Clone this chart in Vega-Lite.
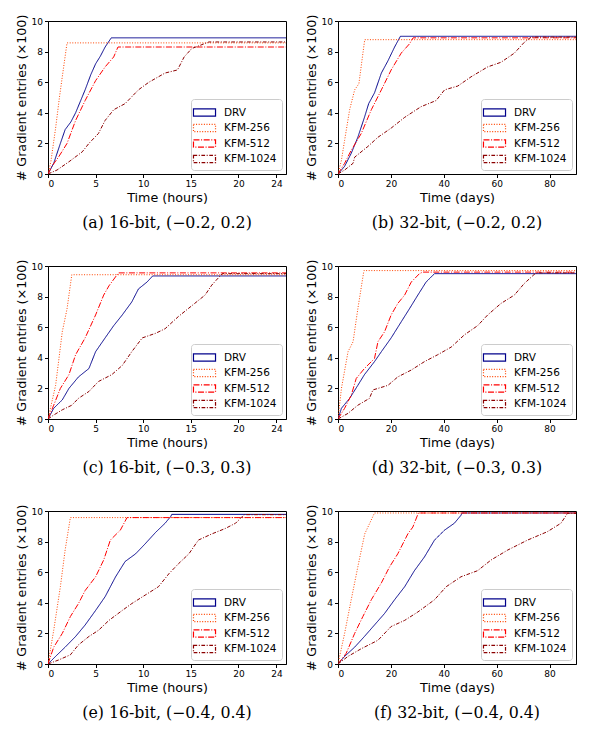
{
  "$schema": "https://vega.github.io/schema/vega-lite/v6.json",
  "padding": {"left": 14, "top": 13, "right": 0, "bottom": 0},
  "data": {
    "values": [
      {"p": "a", "s": "DRV", "t": 0, "y": 0}, {"p": "a", "s": "DRV", "t": 0.6, "y": 0.7}, {"p": "a", "s": "DRV", "t": 1.3, "y": 2.0}, {"p": "a", "s": "DRV", "t": 1.8, "y": 2.9}, {"p": "a", "s": "DRV", "t": 2.4, "y": 3.4}, {"p": "a", "s": "DRV", "t": 2.9, "y": 4.0}, {"p": "a", "s": "DRV", "t": 3.9, "y": 5.5}, {"p": "a", "s": "DRV", "t": 4.5, "y": 6.5}, {"p": "a", "s": "DRV", "t": 5.0, "y": 7.2}, {"p": "a", "s": "DRV", "t": 5.5, "y": 7.7}, {"p": "a", "s": "DRV", "t": 6.0, "y": 8.3}, {"p": "a", "s": "DRV", "t": 6.65, "y": 8.9}, {"p": "a", "s": "DRV", "t": 25, "y": 8.9},
      {"p": "a", "s": "KFM-256", "t": 0, "y": 0}, {"p": "a", "s": "KFM-256", "t": 0.3, "y": 0.8}, {"p": "a", "s": "KFM-256", "t": 0.8, "y": 3.0}, {"p": "a", "s": "KFM-256", "t": 1.2, "y": 5.0}, {"p": "a", "s": "KFM-256", "t": 1.6, "y": 6.8}, {"p": "a", "s": "KFM-256", "t": 2.0, "y": 8.57}, {"p": "a", "s": "KFM-256", "t": 25, "y": 8.57},
      {"p": "a", "s": "KFM-512", "t": 0, "y": 0}, {"p": "a", "s": "KFM-512", "t": 0.4, "y": 0.5}, {"p": "a", "s": "KFM-512", "t": 1.1, "y": 1.1}, {"p": "a", "s": "KFM-512", "t": 2.0, "y": 2.0}, {"p": "a", "s": "KFM-512", "t": 2.9, "y": 3.5}, {"p": "a", "s": "KFM-512", "t": 3.9, "y": 4.8}, {"p": "a", "s": "KFM-512", "t": 5.0, "y": 6.1}, {"p": "a", "s": "KFM-512", "t": 6.0, "y": 7.0}, {"p": "a", "s": "KFM-512", "t": 6.9, "y": 7.65}, {"p": "a", "s": "KFM-512", "t": 7.35, "y": 8.3}, {"p": "a", "s": "KFM-512", "t": 25, "y": 8.3},
      {"p": "a", "s": "KFM-1024", "t": 0, "y": 0}, {"p": "a", "s": "KFM-1024", "t": 0.95, "y": 0.26}, {"p": "a", "s": "KFM-1024", "t": 2.2, "y": 0.8}, {"p": "a", "s": "KFM-1024", "t": 3.6, "y": 1.45}, {"p": "a", "s": "KFM-1024", "t": 4.3, "y": 2.0}, {"p": "a", "s": "KFM-1024", "t": 5.3, "y": 2.65}, {"p": "a", "s": "KFM-1024", "t": 6.0, "y": 3.5}, {"p": "a", "s": "KFM-1024", "t": 6.9, "y": 4.2}, {"p": "a", "s": "KFM-1024", "t": 8.1, "y": 4.6}, {"p": "a", "s": "KFM-1024", "t": 9.5, "y": 5.5}, {"p": "a", "s": "KFM-1024", "t": 10.6, "y": 6.0}, {"p": "a", "s": "KFM-1024", "t": 12.3, "y": 6.6}, {"p": "a", "s": "KFM-1024", "t": 13.6, "y": 6.8}, {"p": "a", "s": "KFM-1024", "t": 14.3, "y": 7.65}, {"p": "a", "s": "KFM-1024", "t": 15.1, "y": 8.2}, {"p": "a", "s": "KFM-1024", "t": 16.9, "y": 8.63}, {"p": "a", "s": "KFM-1024", "t": 25, "y": 8.63},

      {"p": "b", "s": "DRV", "t": 0, "y": 0}, {"p": "b", "s": "DRV", "t": 2.5, "y": 0.5}, {"p": "b", "s": "DRV", "t": 5, "y": 1.35}, {"p": "b", "s": "DRV", "t": 7.5, "y": 2.4}, {"p": "b", "s": "DRV", "t": 10, "y": 3.7}, {"p": "b", "s": "DRV", "t": 11.6, "y": 4.6}, {"p": "b", "s": "DRV", "t": 13.8, "y": 5.3}, {"p": "b", "s": "DRV", "t": 16.4, "y": 6.6}, {"p": "b", "s": "DRV", "t": 18.9, "y": 7.4}, {"p": "b", "s": "DRV", "t": 21.4, "y": 8.3}, {"p": "b", "s": "DRV", "t": 23.6, "y": 9.0}, {"p": "b", "s": "DRV", "t": 90, "y": 9.0},
      {"p": "b", "s": "KFM-256", "t": 0, "y": 0}, {"p": "b", "s": "KFM-256", "t": 1.3, "y": 0.9}, {"p": "b", "s": "KFM-256", "t": 2.5, "y": 2.2}, {"p": "b", "s": "KFM-256", "t": 4.4, "y": 4.2}, {"p": "b", "s": "KFM-256", "t": 6.3, "y": 5.5}, {"p": "b", "s": "KFM-256", "t": 7.9, "y": 5.9}, {"p": "b", "s": "KFM-256", "t": 10.1, "y": 8.78}, {"p": "b", "s": "KFM-256", "t": 90, "y": 8.78},
      {"p": "b", "s": "KFM-512", "t": 0, "y": 0}, {"p": "b", "s": "KFM-512", "t": 2.5, "y": 0.7}, {"p": "b", "s": "KFM-512", "t": 5, "y": 1.55}, {"p": "b", "s": "KFM-512", "t": 8.8, "y": 2.65}, {"p": "b", "s": "KFM-512", "t": 12.6, "y": 4.2}, {"p": "b", "s": "KFM-512", "t": 16.4, "y": 5.5}, {"p": "b", "s": "KFM-512", "t": 20.1, "y": 6.8}, {"p": "b", "s": "KFM-512", "t": 23.9, "y": 7.9}, {"p": "b", "s": "KFM-512", "t": 27, "y": 8.5}, {"p": "b", "s": "KFM-512", "t": 28.4, "y": 8.9}, {"p": "b", "s": "KFM-512", "t": 90, "y": 8.9},
      {"p": "b", "s": "KFM-1024", "t": 0, "y": 0}, {"p": "b", "s": "KFM-1024", "t": 2.5, "y": 0.26}, {"p": "b", "s": "KFM-1024", "t": 5.7, "y": 0.7}, {"p": "b", "s": "KFM-1024", "t": 6.3, "y": 1.1}, {"p": "b", "s": "KFM-1024", "t": 11.3, "y": 1.8}, {"p": "b", "s": "KFM-1024", "t": 15.1, "y": 2.4}, {"p": "b", "s": "KFM-1024", "t": 20.1, "y": 3.0}, {"p": "b", "s": "KFM-1024", "t": 25.2, "y": 3.7}, {"p": "b", "s": "KFM-1024", "t": 31.4, "y": 4.4}, {"p": "b", "s": "KFM-1024", "t": 37.1, "y": 4.8}, {"p": "b", "s": "KFM-1024", "t": 40.3, "y": 5.5}, {"p": "b", "s": "KFM-1024", "t": 45.3, "y": 5.75}, {"p": "b", "s": "KFM-1024", "t": 50.3, "y": 6.35}, {"p": "b", "s": "KFM-1024", "t": 56.6, "y": 7.0}, {"p": "b", "s": "KFM-1024", "t": 61.6, "y": 7.3}, {"p": "b", "s": "KFM-1024", "t": 66.7, "y": 7.9}, {"p": "b", "s": "KFM-1024", "t": 70.4, "y": 8.6}, {"p": "b", "s": "KFM-1024", "t": 73, "y": 8.95}, {"p": "b", "s": "KFM-1024", "t": 90, "y": 8.95},

      {"p": "c", "s": "DRV", "t": 0, "y": 0}, {"p": "c", "s": "DRV", "t": 0.6, "y": 0.7}, {"p": "c", "s": "DRV", "t": 1.5, "y": 1.25}, {"p": "c", "s": "DRV", "t": 2.2, "y": 2.0}, {"p": "c", "s": "DRV", "t": 3.2, "y": 2.75}, {"p": "c", "s": "DRV", "t": 4.3, "y": 3.3}, {"p": "c", "s": "DRV", "t": 5.0, "y": 4.4}, {"p": "c", "s": "DRV", "t": 6.0, "y": 5.3}, {"p": "c", "s": "DRV", "t": 6.9, "y": 6.1}, {"p": "c", "s": "DRV", "t": 7.8, "y": 6.8}, {"p": "c", "s": "DRV", "t": 8.8, "y": 7.65}, {"p": "c", "s": "DRV", "t": 9.5, "y": 8.5}, {"p": "c", "s": "DRV", "t": 10.4, "y": 8.95}, {"p": "c", "s": "DRV", "t": 11.0, "y": 9.35}, {"p": "c", "s": "DRV", "t": 25, "y": 9.35},
      {"p": "c", "s": "KFM-256", "t": 0, "y": 0}, {"p": "c", "s": "KFM-256", "t": 0.8, "y": 2.2}, {"p": "c", "s": "KFM-256", "t": 1.5, "y": 5.7}, {"p": "c", "s": "KFM-256", "t": 2.0, "y": 7.2}, {"p": "c", "s": "KFM-256", "t": 2.5, "y": 9.43}, {"p": "c", "s": "KFM-256", "t": 25, "y": 9.43},
      {"p": "c", "s": "KFM-512", "t": 0, "y": 0}, {"p": "c", "s": "KFM-512", "t": 0.6, "y": 0.9}, {"p": "c", "s": "KFM-512", "t": 1.3, "y": 2.0}, {"p": "c", "s": "KFM-512", "t": 2.2, "y": 2.9}, {"p": "c", "s": "KFM-512", "t": 2.9, "y": 4.2}, {"p": "c", "s": "KFM-512", "t": 3.9, "y": 5.3}, {"p": "c", "s": "KFM-512", "t": 5.0, "y": 6.8}, {"p": "c", "s": "KFM-512", "t": 5.85, "y": 8.1}, {"p": "c", "s": "KFM-512", "t": 6.4, "y": 8.7}, {"p": "c", "s": "KFM-512", "t": 7.4, "y": 9.55}, {"p": "c", "s": "KFM-512", "t": 25, "y": 9.55},
      {"p": "c", "s": "KFM-1024", "t": 0, "y": 0}, {"p": "c", "s": "KFM-1024", "t": 0.6, "y": 0.26}, {"p": "c", "s": "KFM-1024", "t": 1.5, "y": 0.6}, {"p": "c", "s": "KFM-1024", "t": 2.5, "y": 0.9}, {"p": "c", "s": "KFM-1024", "t": 3.2, "y": 1.35}, {"p": "c", "s": "KFM-1024", "t": 4.3, "y": 1.8}, {"p": "c", "s": "KFM-1024", "t": 5.3, "y": 2.45}, {"p": "c", "s": "KFM-1024", "t": 6.7, "y": 2.9}, {"p": "c", "s": "KFM-1024", "t": 7.8, "y": 3.5}, {"p": "c", "s": "KFM-1024", "t": 8.8, "y": 4.4}, {"p": "c", "s": "KFM-1024", "t": 9.9, "y": 5.3}, {"p": "c", "s": "KFM-1024", "t": 11.3, "y": 5.6}, {"p": "c", "s": "KFM-1024", "t": 12.3, "y": 5.9}, {"p": "c", "s": "KFM-1024", "t": 13.7, "y": 6.7}, {"p": "c", "s": "KFM-1024", "t": 15.1, "y": 7.4}, {"p": "c", "s": "KFM-1024", "t": 16.5, "y": 8.1}, {"p": "c", "s": "KFM-1024", "t": 17.2, "y": 8.75}, {"p": "c", "s": "KFM-1024", "t": 18.3, "y": 9.5}, {"p": "c", "s": "KFM-1024", "t": 25, "y": 9.5},

      {"p": "d", "s": "DRV", "t": 0, "y": 0}, {"p": "d", "s": "DRV", "t": 1.3, "y": 0.7}, {"p": "d", "s": "DRV", "t": 4.4, "y": 1.35}, {"p": "d", "s": "DRV", "t": 7.5, "y": 2.2}, {"p": "d", "s": "DRV", "t": 10, "y": 2.9}, {"p": "d", "s": "DRV", "t": 13.8, "y": 3.75}, {"p": "d", "s": "DRV", "t": 16.4, "y": 4.4}, {"p": "d", "s": "DRV", "t": 20.1, "y": 5.3}, {"p": "d", "s": "DRV", "t": 23.9, "y": 6.35}, {"p": "d", "s": "DRV", "t": 27, "y": 7.2}, {"p": "d", "s": "DRV", "t": 30.2, "y": 8.1}, {"p": "d", "s": "DRV", "t": 33.3, "y": 8.95}, {"p": "d", "s": "DRV", "t": 36.5, "y": 9.5}, {"p": "d", "s": "DRV", "t": 90, "y": 9.5},
      {"p": "d", "s": "KFM-256", "t": 0, "y": 0}, {"p": "d", "s": "KFM-256", "t": 1.3, "y": 2.0}, {"p": "d", "s": "KFM-256", "t": 3.8, "y": 4.4}, {"p": "d", "s": "KFM-256", "t": 5.7, "y": 5.05}, {"p": "d", "s": "KFM-256", "t": 7.5, "y": 7.2}, {"p": "d", "s": "KFM-256", "t": 9.8, "y": 9.7}, {"p": "d", "s": "KFM-256", "t": 90, "y": 9.7},
      {"p": "d", "s": "KFM-512", "t": 0, "y": 0}, {"p": "d", "s": "KFM-512", "t": 2.5, "y": 0.7}, {"p": "d", "s": "KFM-512", "t": 5, "y": 1.55}, {"p": "d", "s": "KFM-512", "t": 6.9, "y": 2.65}, {"p": "d", "s": "KFM-512", "t": 10, "y": 3.3}, {"p": "d", "s": "KFM-512", "t": 13.8, "y": 3.95}, {"p": "d", "s": "KFM-512", "t": 15.1, "y": 5.05}, {"p": "d", "s": "KFM-512", "t": 17.6, "y": 5.7}, {"p": "d", "s": "KFM-512", "t": 20.1, "y": 6.8}, {"p": "d", "s": "KFM-512", "t": 22.6, "y": 7.55}, {"p": "d", "s": "KFM-512", "t": 25.2, "y": 8.1}, {"p": "d", "s": "KFM-512", "t": 27.7, "y": 8.95}, {"p": "d", "s": "KFM-512", "t": 30.8, "y": 9.5}, {"p": "d", "s": "KFM-512", "t": 32, "y": 9.6}, {"p": "d", "s": "KFM-512", "t": 90, "y": 9.6},
      {"p": "d", "s": "KFM-1024", "t": 0, "y": 0}, {"p": "d", "s": "KFM-1024", "t": 3.8, "y": 0.37}, {"p": "d", "s": "KFM-1024", "t": 7.5, "y": 0.9}, {"p": "d", "s": "KFM-1024", "t": 11.9, "y": 1.35}, {"p": "d", "s": "KFM-1024", "t": 13.2, "y": 1.9}, {"p": "d", "s": "KFM-1024", "t": 18.9, "y": 2.2}, {"p": "d", "s": "KFM-1024", "t": 22.6, "y": 2.75}, {"p": "d", "s": "KFM-1024", "t": 27.7, "y": 3.2}, {"p": "d", "s": "KFM-1024", "t": 32.7, "y": 3.75}, {"p": "d", "s": "KFM-1024", "t": 37.7, "y": 4.2}, {"p": "d", "s": "KFM-1024", "t": 42.8, "y": 4.7}, {"p": "d", "s": "KFM-1024", "t": 47.8, "y": 5.5}, {"p": "d", "s": "KFM-1024", "t": 52.8, "y": 6.1}, {"p": "d", "s": "KFM-1024", "t": 56.6, "y": 6.8}, {"p": "d", "s": "KFM-1024", "t": 61.6, "y": 7.55}, {"p": "d", "s": "KFM-1024", "t": 66.7, "y": 8.1}, {"p": "d", "s": "KFM-1024", "t": 70.4, "y": 8.85}, {"p": "d", "s": "KFM-1024", "t": 74.2, "y": 9.45}, {"p": "d", "s": "KFM-1024", "t": 75.5, "y": 9.55}, {"p": "d", "s": "KFM-1024", "t": 90, "y": 9.55},

      {"p": "e", "s": "DRV", "t": 0, "y": 0}, {"p": "e", "s": "DRV", "t": 0.8, "y": 0.5}, {"p": "e", "s": "DRV", "t": 1.8, "y": 1.1}, {"p": "e", "s": "DRV", "t": 2.9, "y": 1.8}, {"p": "e", "s": "DRV", "t": 3.9, "y": 2.55}, {"p": "e", "s": "DRV", "t": 5.0, "y": 3.5}, {"p": "e", "s": "DRV", "t": 6.0, "y": 4.4}, {"p": "e", "s": "DRV", "t": 7.1, "y": 5.7}, {"p": "e", "s": "DRV", "t": 8.1, "y": 6.7}, {"p": "e", "s": "DRV", "t": 9.2, "y": 7.2}, {"p": "e", "s": "DRV", "t": 10.2, "y": 7.85}, {"p": "e", "s": "DRV", "t": 11.3, "y": 8.6}, {"p": "e", "s": "DRV", "t": 12.3, "y": 9.2}, {"p": "e", "s": "DRV", "t": 12.9, "y": 9.65}, {"p": "e", "s": "DRV", "t": 13.0, "y": 9.78}, {"p": "e", "s": "DRV", "t": 25, "y": 9.78},
      {"p": "e", "s": "KFM-256", "t": 0, "y": 0}, {"p": "e", "s": "KFM-256", "t": 0.6, "y": 2.2}, {"p": "e", "s": "KFM-256", "t": 1.3, "y": 5.05}, {"p": "e", "s": "KFM-256", "t": 1.8, "y": 7.45}, {"p": "e", "s": "KFM-256", "t": 2.35, "y": 9.57}, {"p": "e", "s": "KFM-256", "t": 25, "y": 9.57},
      {"p": "e", "s": "KFM-512", "t": 0, "y": 0}, {"p": "e", "s": "KFM-512", "t": 0.6, "y": 1.1}, {"p": "e", "s": "KFM-512", "t": 1.5, "y": 2.0}, {"p": "e", "s": "KFM-512", "t": 2.35, "y": 3.1}, {"p": "e", "s": "KFM-512", "t": 3.2, "y": 3.95}, {"p": "e", "s": "KFM-512", "t": 3.9, "y": 4.8}, {"p": "e", "s": "KFM-512", "t": 5.0, "y": 5.7}, {"p": "e", "s": "KFM-512", "t": 5.85, "y": 6.8}, {"p": "e", "s": "KFM-512", "t": 6.55, "y": 8.1}, {"p": "e", "s": "KFM-512", "t": 7.6, "y": 8.75}, {"p": "e", "s": "KFM-512", "t": 8.3, "y": 9.57}, {"p": "e", "s": "KFM-512", "t": 25, "y": 9.57},
      {"p": "e", "s": "KFM-1024", "t": 0, "y": 0}, {"p": "e", "s": "KFM-1024", "t": 1.1, "y": 0.26}, {"p": "e", "s": "KFM-1024", "t": 2.35, "y": 0.6}, {"p": "e", "s": "KFM-1024", "t": 3.2, "y": 1.25}, {"p": "e", "s": "KFM-1024", "t": 4.3, "y": 1.8}, {"p": "e", "s": "KFM-1024", "t": 5.3, "y": 2.2}, {"p": "e", "s": "KFM-1024", "t": 6.4, "y": 2.85}, {"p": "e", "s": "KFM-1024", "t": 7.8, "y": 3.5}, {"p": "e", "s": "KFM-1024", "t": 8.8, "y": 3.95}, {"p": "e", "s": "KFM-1024", "t": 10.2, "y": 4.5}, {"p": "e", "s": "KFM-1024", "t": 11.6, "y": 5.05}, {"p": "e", "s": "KFM-1024", "t": 12.7, "y": 5.9}, {"p": "e", "s": "KFM-1024", "t": 13.7, "y": 6.55}, {"p": "e", "s": "KFM-1024", "t": 14.8, "y": 7.2}, {"p": "e", "s": "KFM-1024", "t": 15.8, "y": 8.1}, {"p": "e", "s": "KFM-1024", "t": 17.2, "y": 8.5}, {"p": "e", "s": "KFM-1024", "t": 18.6, "y": 8.85}, {"p": "e", "s": "KFM-1024", "t": 19.7, "y": 9.2}, {"p": "e", "s": "KFM-1024", "t": 20.6, "y": 9.76}, {"p": "e", "s": "KFM-1024", "t": 25, "y": 9.76},

      {"p": "f", "s": "DRV", "t": 0, "y": 0}, {"p": "f", "s": "DRV", "t": 2.5, "y": 0.5}, {"p": "f", "s": "DRV", "t": 6.3, "y": 1.1}, {"p": "f", "s": "DRV", "t": 10, "y": 1.8}, {"p": "f", "s": "DRV", "t": 13.8, "y": 2.55}, {"p": "f", "s": "DRV", "t": 17.6, "y": 3.3}, {"p": "f", "s": "DRV", "t": 21.4, "y": 4.2}, {"p": "f", "s": "DRV", "t": 25.2, "y": 5.05}, {"p": "f", "s": "DRV", "t": 28.9, "y": 6.1}, {"p": "f", "s": "DRV", "t": 32.7, "y": 7.0}, {"p": "f", "s": "DRV", "t": 36.5, "y": 8.1}, {"p": "f", "s": "DRV", "t": 40.3, "y": 8.75}, {"p": "f", "s": "DRV", "t": 44, "y": 9.2}, {"p": "f", "s": "DRV", "t": 46.5, "y": 9.72}, {"p": "f", "s": "DRV", "t": 46.9, "y": 9.87}, {"p": "f", "s": "DRV", "t": 90, "y": 9.87},
      {"p": "f", "s": "KFM-256", "t": 0, "y": 0}, {"p": "f", "s": "KFM-256", "t": 2.5, "y": 2.0}, {"p": "f", "s": "KFM-256", "t": 5, "y": 4.2}, {"p": "f", "s": "KFM-256", "t": 7.5, "y": 6.35}, {"p": "f", "s": "KFM-256", "t": 10.1, "y": 8.5}, {"p": "f", "s": "KFM-256", "t": 13.8, "y": 9.87}, {"p": "f", "s": "KFM-256", "t": 90, "y": 9.87},
      {"p": "f", "s": "KFM-512", "t": 0, "y": 0}, {"p": "f", "s": "KFM-512", "t": 3.1, "y": 0.7}, {"p": "f", "s": "KFM-512", "t": 6.3, "y": 2.0}, {"p": "f", "s": "KFM-512", "t": 9.4, "y": 3.1}, {"p": "f", "s": "KFM-512", "t": 12.6, "y": 4.2}, {"p": "f", "s": "KFM-512", "t": 16.4, "y": 5.3}, {"p": "f", "s": "KFM-512", "t": 19.5, "y": 6.35}, {"p": "f", "s": "KFM-512", "t": 22.6, "y": 7.2}, {"p": "f", "s": "KFM-512", "t": 26.4, "y": 8.5}, {"p": "f", "s": "KFM-512", "t": 28.3, "y": 8.95}, {"p": "f", "s": "KFM-512", "t": 30.4, "y": 9.87}, {"p": "f", "s": "KFM-512", "t": 90, "y": 9.87},
      {"p": "f", "s": "KFM-1024", "t": 0, "y": 0}, {"p": "f", "s": "KFM-1024", "t": 3.8, "y": 0.5}, {"p": "f", "s": "KFM-1024", "t": 8.8, "y": 1.0}, {"p": "f", "s": "KFM-1024", "t": 15.1, "y": 1.55}, {"p": "f", "s": "KFM-1024", "t": 20.1, "y": 2.45}, {"p": "f", "s": "KFM-1024", "t": 25.2, "y": 2.85}, {"p": "f", "s": "KFM-1024", "t": 30.2, "y": 3.4}, {"p": "f", "s": "KFM-1024", "t": 36.5, "y": 4.2}, {"p": "f", "s": "KFM-1024", "t": 40.9, "y": 5.05}, {"p": "f", "s": "KFM-1024", "t": 46.5, "y": 5.7}, {"p": "f", "s": "KFM-1024", "t": 52.8, "y": 6.1}, {"p": "f", "s": "KFM-1024", "t": 57.9, "y": 6.8}, {"p": "f", "s": "KFM-1024", "t": 64.2, "y": 7.45}, {"p": "f", "s": "KFM-1024", "t": 71.7, "y": 8.1}, {"p": "f", "s": "KFM-1024", "t": 79.2, "y": 8.65}, {"p": "f", "s": "KFM-1024", "t": 84.3, "y": 9.2}, {"p": "f", "s": "KFM-1024", "t": 86.8, "y": 9.85}, {"p": "f", "s": "KFM-1024", "t": 90, "y": 9.85}
    ]
  },
  "vconcat": [
    {
      "hconcat": [
        {
          "width": 238, "height": 153,
          "title": {"text": "(a) 16-bit, (−0.2, 0.2)", "orient": "bottom"},
          "transform": [{"filter": "datum.p == 'a'"}],
          "mark": {"type": "line", "strokeWidth": 1, "clip": true},
          "encoding": {
            "x": {"field": "t", "type": "quantitative", "scale": {"domain": [0, 25], "nice": false}, "axis": {"values": [0, 5, 10, 15, 20, 24], "title": "Time (hours)"}},
            "y": {"field": "y", "type": "quantitative", "scale": {"domain": [0, 10]}, "axis": {"values": [0, 2, 4, 6, 8, 10], "title": "# Gradient entries (×100)"}},
            "color": {"field": "s", "type": "nominal", "scale": {"domain": ["DRV", "KFM-256", "KFM-512", "KFM-1024"], "range": ["#00008b", "#ff4500", "#ff0000", "#8b0000"]}, "legend": {"title": null}},
            "strokeDash": {"field": "s", "type": "nominal", "scale": {"domain": ["DRV", "KFM-256", "KFM-512", "KFM-1024"], "range": [[1, 0], [1, 1.6], [6, 1.6, 1, 1.6], [3.7, 1.6, 1, 1.6]]}, "legend": {"title": null}}
          }
        },
        {
          "width": 238, "height": 153,
          "title": {"text": "(b) 32-bit, (−0.2, 0.2)", "orient": "bottom"},
          "transform": [{"filter": "datum.p == 'b'"}],
          "mark": {"type": "line", "strokeWidth": 1, "clip": true},
          "encoding": {
            "x": {"field": "t", "type": "quantitative", "scale": {"domain": [0, 90], "nice": false}, "axis": {"values": [0, 20, 40, 60, 80], "title": "Time (days)"}},
            "y": {"field": "y", "type": "quantitative", "scale": {"domain": [0, 10]}, "axis": {"values": [0, 2, 4, 6, 8, 10], "title": "# Gradient entries (×100)"}},
            "color": {"field": "s", "type": "nominal", "scale": {"domain": ["DRV", "KFM-256", "KFM-512", "KFM-1024"], "range": ["#00008b", "#ff4500", "#ff0000", "#8b0000"]}, "legend": {"title": null}},
            "strokeDash": {"field": "s", "type": "nominal", "scale": {"domain": ["DRV", "KFM-256", "KFM-512", "KFM-1024"], "range": [[1, 0], [1, 1.6], [6, 1.6, 1, 1.6], [3.7, 1.6, 1, 1.6]]}, "legend": {"title": null}}
          }
        }
      ],
      "spacing": 17,
      "resolve": {"legend": {"color": "independent", "strokeDash": "independent"}}
    },
    {
      "hconcat": [
        {
          "width": 238, "height": 153,
          "title": {"text": "(c) 16-bit, (−0.3, 0.3)", "orient": "bottom"},
          "transform": [{"filter": "datum.p == 'c'"}],
          "mark": {"type": "line", "strokeWidth": 1, "clip": true},
          "encoding": {
            "x": {"field": "t", "type": "quantitative", "scale": {"domain": [0, 25], "nice": false}, "axis": {"values": [0, 5, 10, 15, 20, 24], "title": "Time (hours)"}},
            "y": {"field": "y", "type": "quantitative", "scale": {"domain": [0, 10]}, "axis": {"values": [0, 2, 4, 6, 8, 10], "title": "# Gradient entries (×100)"}},
            "color": {"field": "s", "type": "nominal", "scale": {"domain": ["DRV", "KFM-256", "KFM-512", "KFM-1024"], "range": ["#00008b", "#ff4500", "#ff0000", "#8b0000"]}, "legend": {"title": null}},
            "strokeDash": {"field": "s", "type": "nominal", "scale": {"domain": ["DRV", "KFM-256", "KFM-512", "KFM-1024"], "range": [[1, 0], [1, 1.6], [6, 1.6, 1, 1.6], [3.7, 1.6, 1, 1.6]]}, "legend": {"title": null}}
          }
        },
        {
          "width": 238, "height": 153,
          "title": {"text": "(d) 32-bit, (−0.3, 0.3)", "orient": "bottom"},
          "transform": [{"filter": "datum.p == 'd'"}],
          "mark": {"type": "line", "strokeWidth": 1, "clip": true},
          "encoding": {
            "x": {"field": "t", "type": "quantitative", "scale": {"domain": [0, 90], "nice": false}, "axis": {"values": [0, 20, 40, 60, 80], "title": "Time (days)"}},
            "y": {"field": "y", "type": "quantitative", "scale": {"domain": [0, 10]}, "axis": {"values": [0, 2, 4, 6, 8, 10], "title": "# Gradient entries (×100)"}},
            "color": {"field": "s", "type": "nominal", "scale": {"domain": ["DRV", "KFM-256", "KFM-512", "KFM-1024"], "range": ["#00008b", "#ff4500", "#ff0000", "#8b0000"]}, "legend": {"title": null}},
            "strokeDash": {"field": "s", "type": "nominal", "scale": {"domain": ["DRV", "KFM-256", "KFM-512", "KFM-1024"], "range": [[1, 0], [1, 1.6], [6, 1.6, 1, 1.6], [3.7, 1.6, 1, 1.6]]}, "legend": {"title": null}}
          }
        }
      ],
      "spacing": 17,
      "resolve": {"legend": {"color": "independent", "strokeDash": "independent"}}
    },
    {
      "hconcat": [
        {
          "width": 238, "height": 153,
          "title": {"text": "(e) 16-bit, (−0.4, 0.4)", "orient": "bottom"},
          "transform": [{"filter": "datum.p == 'e'"}],
          "mark": {"type": "line", "strokeWidth": 1, "clip": true},
          "encoding": {
            "x": {"field": "t", "type": "quantitative", "scale": {"domain": [0, 25], "nice": false}, "axis": {"values": [0, 5, 10, 15, 20, 24], "title": "Time (hours)"}},
            "y": {"field": "y", "type": "quantitative", "scale": {"domain": [0, 10]}, "axis": {"values": [0, 2, 4, 6, 8, 10], "title": "# Gradient entries (×100)"}},
            "color": {"field": "s", "type": "nominal", "scale": {"domain": ["DRV", "KFM-256", "KFM-512", "KFM-1024"], "range": ["#00008b", "#ff4500", "#ff0000", "#8b0000"]}, "legend": {"title": null}},
            "strokeDash": {"field": "s", "type": "nominal", "scale": {"domain": ["DRV", "KFM-256", "KFM-512", "KFM-1024"], "range": [[1, 0], [1, 1.6], [6, 1.6, 1, 1.6], [3.7, 1.6, 1, 1.6]]}, "legend": {"title": null}}
          }
        },
        {
          "width": 238, "height": 153,
          "title": {"text": "(f) 32-bit, (−0.4, 0.4)", "orient": "bottom"},
          "transform": [{"filter": "datum.p == 'f'"}],
          "mark": {"type": "line", "strokeWidth": 1, "clip": true},
          "encoding": {
            "x": {"field": "t", "type": "quantitative", "scale": {"domain": [0, 90], "nice": false}, "axis": {"values": [0, 20, 40, 60, 80], "title": "Time (days)"}},
            "y": {"field": "y", "type": "quantitative", "scale": {"domain": [0, 10]}, "axis": {"values": [0, 2, 4, 6, 8, 10], "title": "# Gradient entries (×100)"}},
            "color": {"field": "s", "type": "nominal", "scale": {"domain": ["DRV", "KFM-256", "KFM-512", "KFM-1024"], "range": ["#00008b", "#ff4500", "#ff0000", "#8b0000"]}, "legend": {"title": null}},
            "strokeDash": {"field": "s", "type": "nominal", "scale": {"domain": ["DRV", "KFM-256", "KFM-512", "KFM-1024"], "range": [[1, 0], [1, 1.6], [6, 1.6, 1, 1.6], [3.7, 1.6, 1, 1.6]]}, "legend": {"title": null}}
          }
        }
      ],
      "spacing": 17,
      "resolve": {"legend": {"color": "independent", "strokeDash": "independent"}}
    }
  ],
  "spacing": 26,
  "resolve": {"legend": {"color": "independent", "strokeDash": "independent"}},
  "config": {
    "view": {"stroke": "black", "strokeWidth": 1},
    "axis": {
      "grid": false,
      "domainColor": "black",
      "tickColor": "black",
      "tickSize": 3.5,
      "labelColor": "black",
      "labelFont": "DejaVu Sans",
      "labelFontSize": 9,
      "labelPadding": 2,
      "titleColor": "black",
      "titleFont": "DejaVu Sans",
      "titleFontSize": 12.7,
      "titleFontWeight": "normal",
      "titlePadding": 3
    },
    "title": {"font": "DejaVu Serif", "fontSize": 15.8, "fontWeight": "normal", "color": "black", "offset": 12},
    "legend": {
      "orient": "bottom-right",
      "offset": 4,
      "padding": 5,
      "fillColor": "white",
      "strokeColor": "#cccccc",
      "cornerRadius": 3,
      "labelFont": "DejaVu Sans",
      "labelFontSize": 10.5,
      "labelColor": "black",
      "labelOffset": 11,
      "symbolType": "M-1.47,-0.48H1.47V0.48H-1.47Z",
      "symbolSize": 225,
      "symbolStrokeWidth": 1.2,
      "symbolOffset": 0,
      "rowPadding": 0.5
    }
  }
}
